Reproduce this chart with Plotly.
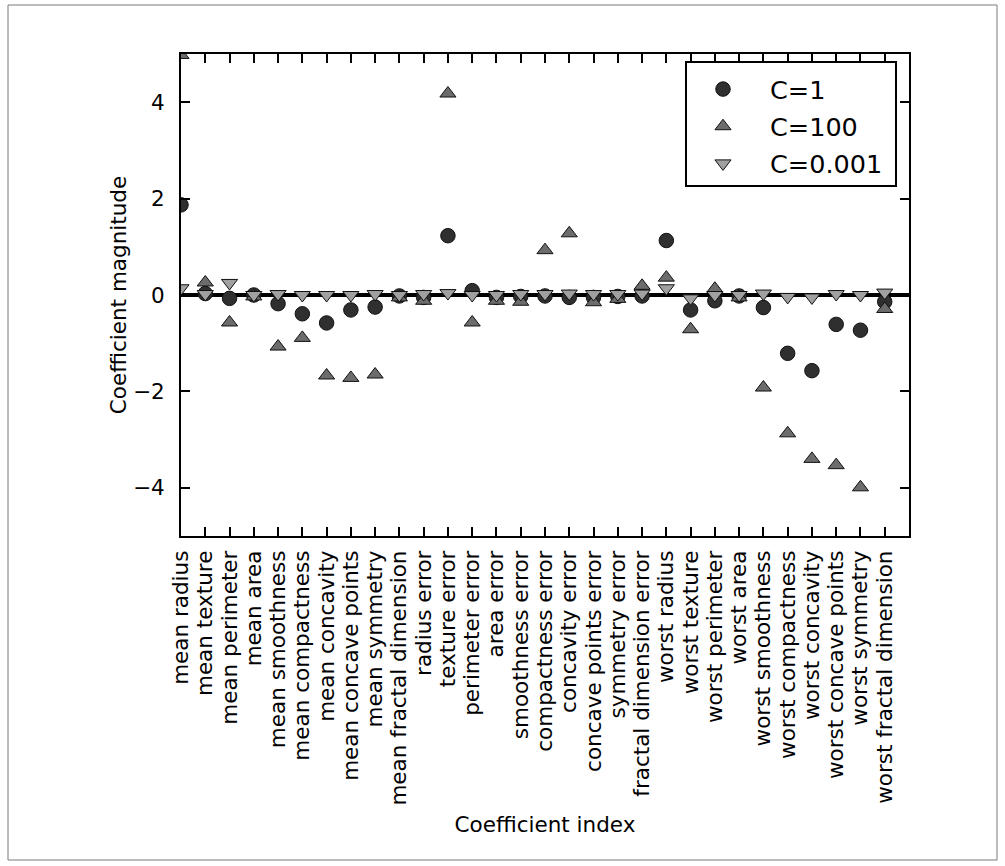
import plotly.graph_objects as go

features = ["mean radius", "mean texture", "mean perimeter", "mean area",
            "mean smoothness", "mean compactness", "mean concavity",
            "mean concave points", "mean symmetry", "mean fractal dimension",
            "radius error", "texture error", "perimeter error", "area error",
            "smoothness error", "compactness error", "concavity error",
            "concave points error", "symmetry error", "fractal dimension error",
            "worst radius", "worst texture", "worst perimeter", "worst area",
            "worst smoothness", "worst compactness", "worst concavity",
            "worst concave points", "worst symmetry", "worst fractal dimension"]

coef_c1 = [1.87, 0.03, -0.07, 0.0, -0.18, -0.39, -0.58, -0.31, -0.25, -0.02,
           -0.05, 1.23, 0.09, -0.05, -0.03, -0.02, -0.05, -0.05, -0.03, -0.02,
           1.13, -0.31, -0.12, -0.02, -0.26, -1.21, -1.57, -0.61, -0.73, -0.14]

coef_c100 = [4.98, 0.26, -0.57, -0.03, -1.07, -0.89, -1.67, -1.72, -1.65, -0.05,
             -0.12, 4.18, -0.57, -0.12, -0.14, 0.93, 1.28, -0.15, -0.08, 0.19,
             0.36, -0.71, 0.13, -0.05, -1.92, -2.87, -3.40, -3.53, -3.99, -0.29]

coef_c001 = [0.14, 0.02, 0.25, 0.0, 0.02, 0.0, 0.0, 0.0, 0.02, 0.0,
             0.02, 0.04, 0.0, 0.0, 0.02, 0.02, 0.03, 0.02, 0.02, 0.03,
             0.14, -0.07, 0.0, 0.0, 0.03, -0.04, -0.05, 0.02, 0.0, 0.05]

series_names = ["C=1", "C=100", "C=0.001"]
y_ticks = [-4, -2, 0, 2, 4]

FONT = "DejaVu Sans"
idx = list(range(len(features)))

fig = go.Figure()

styles = [
    ("circle", "#2f2f2f", 14.5),
    ("triangle-up", "#6c6c6c", 14),
    ("triangle-down", "#a0a0a0", 14),
]
for name, vals, (sym, col, sz) in zip(series_names, [coef_c1, coef_c100, coef_c001], styles):
    fig.add_trace(go.Scatter(
        x=idx, y=vals, mode="markers", name=name, legendgroup=name,
        marker=dict(symbol=sym, color=col, size=sz,
                    line=dict(color="#111111", width=1)),
        cliponaxis=True,
    ))

# zero line
fig.add_shape(type="line", xref="x", yref="y", x0=0, x1=len(features), y0=0, y1=0,
              line=dict(color="black", width=4), layer="below")

# legend frame
L, R, T, B = 181, 909, 54, 536
def px(xp):
    return (xp - L) / (R - L)
def py(yp):
    return (B - yp) / (B - T)

fig.add_shape(type="rect", xref="paper", yref="paper",
              x0=px(686), x1=px(896), y0=py(186), y1=py(62),
              line=dict(color="black", width=2), fillcolor="white", layer="below")

# outer figure frame
fig.add_shape(type="rect", xref="paper", yref="paper",
              x0=px(8), x1=px(997), y0=py(860), y1=py(5),
              line=dict(color="#7a7a7a", width=1))

fig.update_layout(
    width=1005, height=866,
    margin=dict(l=L, r=1005 - R, t=T, b=866 - B, autoexpand=False),
    paper_bgcolor="white", plot_bgcolor="white",
    font=dict(family=FONT, size=21.5, color="black"),
    showlegend=True,
    legend=dict(x=px(676), y=py(66), xanchor="left", yanchor="top",
                bgcolor="rgba(0,0,0,0)", borderwidth=0,
                font=dict(family=FONT, size=25.5, color="black"),
                traceorder="grouped", tracegroupgap=1, itemwidth=84),
    xaxis=dict(range=[0, len(features)], tickmode="array", tickvals=idx,
               ticktext=features, tickangle=-90, ticks="inside", ticklen=9,
               tickwidth=1.5, tickcolor="black", showline=True, linecolor="black",
               linewidth=2, mirror="ticks", showgrid=False, zeroline=False,
               automargin=False, ticklabelstandoff=4,
               title=dict(text="Coefficient index", standoff=12,
                          font=dict(family=FONT, size=21.5))),
    yaxis=dict(range=[-5, 5], tickmode="array", tickvals=y_ticks,
               ticktext=[str(v).replace("-", "\u2212") for v in y_ticks],
               ticks="inside", ticklen=9, tickwidth=1.5, tickcolor="black",
               showline=True, linecolor="black", linewidth=2, mirror="ticks",
               showgrid=False, zeroline=False, automargin=False,
               ticklabelstandoff=10,
               title=dict(text="Coefficient magnitude", standoff=0,
                          font=dict(family=FONT, size=21.5))),
)

fig.write_html("out.html")
